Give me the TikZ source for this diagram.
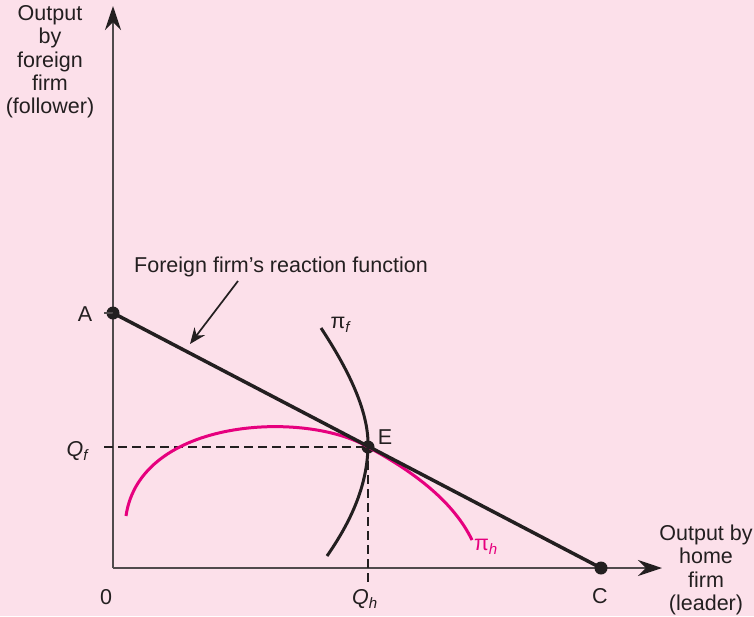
\documentclass[tikz,border=0pt]{standalone}
\usepackage{fontspec}
\setmainfont{Liberation Sans}
\usetikzlibrary{arrows.meta}
\definecolor{bg}{RGB}{252,224,234}
\definecolor{ink}{RGB}{35,31,32}
\definecolor{axisc}{RGB}{80,74,76}
\definecolor{mag}{RGB}{230,0,126}
\tikzset{
  lbl/.style={font=\fontsize{21.5}{23.3}\selectfont, text=ink, inner sep=0pt, align=center},
  axisline/.style={draw=axisc, line width=2.4pt, -{Stealth[length=24pt,width=16pt,color=ink]}},
  dot/.style={circle, fill=ink, inner sep=0pt, minimum size=13pt},
  dashline/.style={draw=ink, line width=2.8pt, dash pattern=on 9pt off 5pt},
  curve/.style={line width=3pt},
}
\begin{document}
\begin{tikzpicture}[x=1pt,y=-1pt]
\fill[bg] (0,0) rectangle (754,616);
\useasboundingbox (0,0) rectangle (754,616);
% axes
\coordinate (O) at (113,568);
\coordinate (ytop) at (113,6);
\coordinate (xend) at (662,568);
\draw[axisline] (O) -- (ytop);
\draw[axisline] (O) -- (xend);
% points
\node[dot] (A) at (113,313) {};
\node[dot] (C) at (601,568) {};
\node[dot] (E) at (368,447) {};
\coordinate (tA) at (104,313);
\coordinate (tQf) at (104,447);
\coordinate (tQh) at (368,583);
% ticks
\draw[axisc, line width=2.2pt] (tA) -- (A.center);
% dashed lines
\draw[dashline] (tQf) -- (E.center);
\draw[dashline] (E.center) -- (tQh);
% pi_h curve
\coordinate (h1) at (126,516);
\coordinate (h2) at (472,540);
\draw[mag, curve] (h1) .. controls (140,418) and (305,410) .. (E.center) .. controls (420,475) and (455,505) .. (h2);
% pi_f curve
\coordinate (f1) at (321,328);
\coordinate (f2) at (327,556);
\draw[ink, curve] (f1) .. controls (352,375) and (369,415) .. (E.center) .. controls (367,485) and (352,520) .. (f2);
% reaction line
\draw[ink, line width=3.5pt] (A.center) -- (C.center);
% annotation
\node[lbl, anchor=west] (rf) at (134,267) {Foreign firm’s reaction function};
\coordinate (ra) at (190,344);
\draw[ink, line width=1.7pt, -{Stealth[length=16pt,width=13pt]}] (238,281) -- (ra);
% labels
\node[lbl] (ylab) at (50,62) {Output\\by\\foreign\\firm\\(follower)};
\node[lbl] (xlab) at (706,570) {Output by\\home\\firm\\(leader)};
\node[lbl] (lA) at (85,314) {A};
\node[lbl] (lC) at (600,596) {C};
\node[lbl] (lE) at (385,437) {E};
\node[lbl] (l0) at (106,597) {0};
\node[lbl] (lQf) at (78,451) {\textit{Q}\textsubscript{\textit{f}}};
\node[lbl] (lQh) at (365,599) {\textit{Q}\textsubscript{\textit{h}}};
\node[lbl] (lpf) at (341,325) {π\textsubscript{\textit{f}}};
\node[lbl, text=mag] (lph) at (486,547) {π\textsubscript{\textit{h}}};
\end{tikzpicture}
\end{document}
